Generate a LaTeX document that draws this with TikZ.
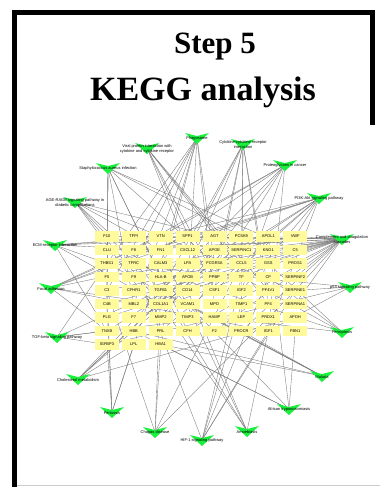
\documentclass[tikz,border=0pt]{standalone}
\usepackage{fontspec}
\setmainfont{Liberation Serif}
\newfontfamily\lab{Liberation Sans}
\pgfdeclarelayer{back}
\pgfdeclarelayer{bg}
\pgfsetlayers{back,bg,main}
\definecolor{vgreen}{RGB}{25,240,60}
\definecolor{gbox}{RGB}{255,250,155}
\definecolor{edgec}{RGB}{120,120,120}
\tikzset{
  gene/.style={fill=gbox, minimum width=24pt, minimum height=10.5pt, inner sep=0pt,
    font=\lab\fontsize{4}{4.5}\selectfont},
  plabel/.style={font=\lab\fontsize{4}{4.6}\selectfont, align=center, inner sep=0pt},
  edge/.style={draw=edgec, line width=0.35pt},
  frameline/.style={line width=5pt, black},
  titletext/.style={font=\bfseries, inner sep=0pt, anchor=base},
}
\newcommand\pway[4]{%
  \coordinate (#1) at (#2,#3);
  \fill[vgreen,shift={(#1)}] (-12,-5) -- (0,-2) -- (12,-5) -- (0,6) -- cycle;
  \node[plabel] (#1l) at (#2,#3+0.8) {#4};
}
\newcommand\links[2]{%
  \begin{pgfonlayer}{bg}
    \foreach \g in {#2} {\draw[edge] (#1) -- (\g);}
  \end{pgfonlayer}
}
\begin{document}
\begin{tikzpicture}[x=1pt,y=-1pt]
\useasboundingbox (0,0) rectangle (380,487);
\begin{pgfonlayer}{back}
\fill[white] (0,0) rectangle (380,487);
\end{pgfonlayer}
% frame
\draw[frameline] (14.5,10) -- (14.5,487);
\draw[frameline] (12,12.5) -- (375,12.5);
\draw[frameline] (372.5,10) -- (372.5,125);
\draw[black!20, line width=0.6pt] (17,485.5) -- (380,485.5);
% titles
\node[titletext, font=\bfseries\fontsize{31}{34}\selectfont] (t1) at (215,54) {Step 5};
\node[titletext, font=\bfseries\fontsize{34}{38}\selectfont] (t2) at (203,100) {KEGG analysis};
% genes
\foreach \rowlist [count=\r] in {
  {F10,TFPI,VTN,SPP1,AGT,PCSK9,APOL1,VWF},
  {CLU,F8,FN1,CXCL12,APOE,SERPINC1,KNG1,C5},
  {THBS1,TFRC,CALM3,LPA,FCGR3A,CCL5,GSS,PROS1},
  {F5,F9,HLA-B,APOB,PPBP,TF,CP,SERPINF2},
  {C3,CFHR1,TGFB1,CD14,CSF1,IGF2,PF4V1,SERPINE1},
  {C4B,MBL2,COL1A1,VCAM1,MPO,TIMP1,PF4,SERPINA1},
  {PLG,F7,MMP2,TIMP3,HAMP,LEP,PRDX1,APOH},
  {TNXB,HBB,PRL,CFH,F2,PROCR,IGF1,FBN1},
  {IGFBP3,LPL,HBA1}} {
  \foreach \g [count=\c] in \rowlist {
    \node[gene] (\g) at ({80+26.9*\c},{223+13.5*\r}) {\g};
  }
}
% pathways
\pway{pA}{197}{138}{Phagosome}
\pway{pT}{243}{144}{Cytokine-cytokine receptor\\interaction}
\pway{pB}{147}{148}{Viral protein interaction with\\cytokine and cytokine receptor}
\pway{pS}{285}{165}{Proteoglycans in cancer}
\pway{pC}{108}{168}{Staphylococcus aureus infection}
\pway{pR}{319}{198}{PI3K-Akt signaling pathway}
\pway{pD}{75}{202}{AGE-RAGE signaling pathway in\\diabetic complications}
\pway{pQ}{342}{239}{Complement and coagulation\\cascades}
\pway{pE}{55}{245}{ECM-receptor interaction}
\pway{pF}{51}{288}{Focal adhesion}
\pway{pP}{350}{287}{p53 signaling pathway}
\pway{pO}{342}{332}{Ferroptosis}
\pway{pG}{57}{337}{TGF-beta signaling pathway}
\pway{pN}{322}{376}{Malaria}
\pway{pH}{78}{379}{Cholesterol metabolism}
\pway{pM}{289}{409}{African trypanosomiasis}
\pway{pI}{112}{412}{Pertussis}
\pway{pJ}{155}{432}{Chagas disease}
\pway{pL}{247}{431}{Amoebiasis}
\pway{pK}{202}{440}{HIF-1 signaling pathway}
% connectors
\links{pA}{C3,HLA-B,FCGR3A,THBS1,MPO,TFRC,MBL2,CD14,CALM3}
\links{pB}{CXCL12,CCL5,PPBP,PF4,PF4V1,CSF1}
\links{pC}{C3,C5,C4B,PLG,CFH,FCGR3A,MBL2,HLA-B,KNG1}
\links{pD}{TGFB1,COL1A1,VCAM1,SERPINE1,FN1,MMP2,AGT}
\links{pE}{VTN,SPP1,THBS1,FN1,COL1A1,VWF,TNXB}
\links{pF}{VTN,SPP1,THBS1,FN1,COL1A1,VWF,TNXB,IGF1}
\links{pG}{TGFB1,THBS1,HAMP,TNXB,IGFBP3}
\links{pH}{LPA,APOB,APOE,LPL,PCSK9,APOH}
\links{pI}{C3,C4B,CALM3,IGFBP3,LPL}
\links{pJ}{TGFB1,C3,CCL5,SERPINE1,HBA1}
\links{pK}{TF,TFRC,IGF1,SERPINE1,CP,TIMP1}
\links{pL}{FN1,COL1A1,TGFB1,CD14,IGF1}
\links{pM}{APOL1,HBB,HBA1,VCAM1,FBN1}
\links{pN}{TGFB1,VCAM1,THBS1,HBB,HBA1,PROCR}
\links{pO}{TF,TFRC,CP,GSS,HAMP}
\links{pP}{SERPINE1,THBS1,IGF1,IGFBP3}
\links{pQ}{F10,TFPI,VTN,CLU,F8,SERPINC1,KNG1,C5,F5,F9,C3,C4B,MBL2,PLG,F7,F2,PROCR,SERPINF2,SERPINE1,SERPINA1,CFH,CFHR1,PROS1,VWF}
\links{pR}{SPP1,VTN,THBS1,FN1,COL1A1,VWF,IGF1,IGF2,CSF1,PRL,TNXB}
\links{pS}{FN1,IGF1,IGF2,TGFB1,VTN,THBS1,TIMP3,MMP2}
\links{pT}{CXCL12,CCL5,PPBP,PF4,PF4V1,CSF1,TGFB1,LEP,PRL}
\end{tikzpicture}
\end{document}
